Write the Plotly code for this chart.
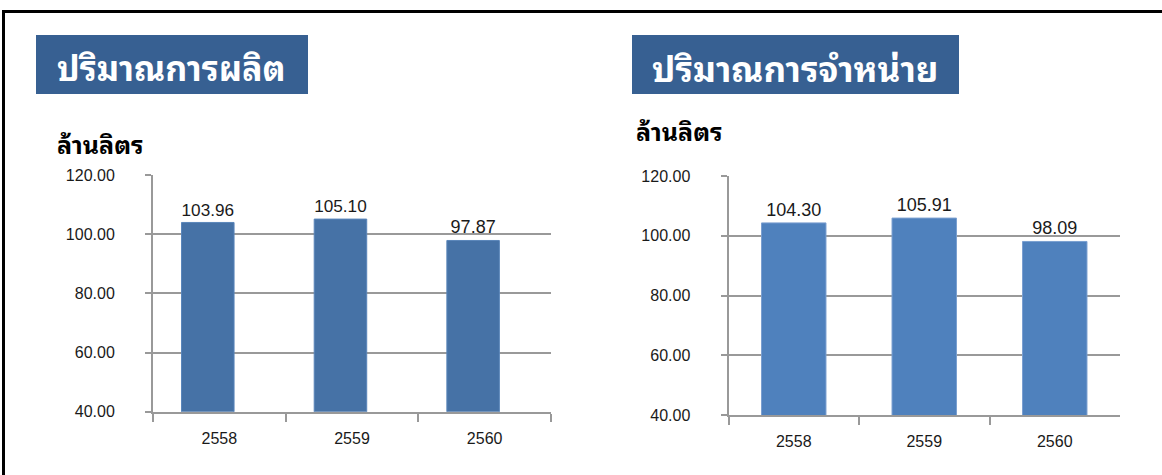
import plotly.graph_objects as go

years = ["2558", "2559", "2560"]
production = [103.96, 105.10, 97.87]
sales = [104.30, 105.91, 98.09]
title_left = "ปริมาณการผลิต"
title_right = "ปริมาณการจำหน่าย"
unit_label = "ล้านลิตร"
y_ticks = [40, 60, 80, 100, 120]

W, H = 1162, 475
THAI = "Tahoma, 'Noto Sans Thai Looped', Garuda, Loma, 'Noto Sans Thai', 'Noto Sans', sans-serif"
NUM = "Tahoma, 'Liberation Sans', Arial, sans-serif"

fig = go.Figure()
fig.add_trace(go.Bar(x=years, y=production, xaxis="x", yaxis="y",
                     marker=dict(color="#4672A6", line=dict(color="#5A86BA", width=1)),
                     width=0.396, offset=-0.285, text=[f"{v:.2f}" for v in production],
                     textposition="outside", cliponaxis=False,
                     textfont=dict(family=NUM, size=18, color="#1a1a1a")))
fig.add_trace(go.Bar(x=years, y=sales, xaxis="x2", yaxis="y2",
                     marker=dict(color="#4F81BD", line=dict(color="#7A9FD0", width=1)),
                     width=0.494, text=[f"{v:.2f}" for v in sales],
                     textposition="outside", cliponaxis=False,
                     textfont=dict(family=NUM, size=18, color="#1a1a1a")))

def px(v):
    return v / W

def py(v):
    return 1 - v / H

xcommon = dict(type="category", tickson="boundaries", ticks="outside", ticklen=8,
               tickcolor="#999999", tickwidth=2, showline=True, linecolor="#999999",
               linewidth=2, showgrid=False, tickfont=dict(family=NUM, size=16, color="#1a1a1a"),
               ticklabelstandoff=11, fixedrange=True, automargin=False)
ycommon = dict(range=[40, 120], tickvals=y_ticks, tickformat=".2f", ticks="outside",
               ticklen=6, tickcolor="#999999", tickwidth=2, showline=True,
               linecolor="#999999", linewidth=2, showgrid=True, gridcolor="#999999",
               gridwidth=2, zeroline=False, ticklabelstandoff=27,
               tickfont=dict(family=NUM, size=16, color="#1a1a1a"), fixedrange=True,
               automargin=False)

fig.update_layout(
    width=W, height=H, margin=dict(l=0, r=0, t=0, b=0, pad=0, autoexpand=False),
    paper_bgcolor="white", plot_bgcolor="white", showlegend=False,
    xaxis=dict(domain=[px(153), px(551)], anchor="y", **xcommon),
    yaxis=dict(domain=[py(411.7), py(175)], anchor="x", **ycommon),
    xaxis2=dict(domain=[px(728.5), px(1120)], anchor="y2", **xcommon),
    yaxis2=dict(domain=[py(415), py(176)], anchor="x2", **ycommon),
)

shapes = [
    dict(type="rect", xref="paper", yref="paper", x0=px(36), x1=px(308), y0=py(94), y1=py(35),
         fillcolor="#376092", line=dict(width=0), layer="below"),
    dict(type="rect", xref="paper", yref="paper", x0=px(632), x1=px(959), y0=py(94), y1=py(35),
         fillcolor="#376092", line=dict(width=0), layer="below"),
    dict(type="line", xref="paper", yref="paper", x0=px(2), x1=1, y0=py(11.5), y1=py(11.5),
         line=dict(color="black", width=3)),
    dict(type="line", xref="paper", yref="paper", x0=px(3.5), x1=px(3.5), y0=py(10), y1=0,
         line=dict(color="black", width=3)),
]
fig.update_layout(shapes=shapes)

ann = [
    dict(text=f"<b>{title_left}</b>", x=px(171), y=py(66), xanchor="center", yanchor="middle",
         font=dict(family=THAI, size=34, color="white")),
    dict(text=f"<b>{title_right}</b>", x=px(795), y=py(66), xanchor="center", yanchor="middle",
         font=dict(family=THAI, size=35, color="white")),
    dict(text=f"<b>{unit_label}</b>", x=px(55), y=py(143), xanchor="left", yanchor="middle",
         font=dict(family=THAI, size=25, color="black")),
    dict(text=f"<b>{unit_label}</b>", x=px(634), y=py(130), xanchor="left", yanchor="middle",
         font=dict(family=THAI, size=25, color="black")),
]
for a in ann:
    a.update(xref="paper", yref="paper", showarrow=False)
fig.update_layout(annotations=ann)

ps = """
document.documentElement.style.margin='0';
document.body.style.margin='0';
document.body.style.overflow='hidden';
var gd = document.getElementById('{plot_id}');
gd.style.position='absolute'; gd.style.top='0px'; gd.style.left='0px';
"""
fig.write_html("out.html", config={"displayModeBar": False}, post_script=ps)
